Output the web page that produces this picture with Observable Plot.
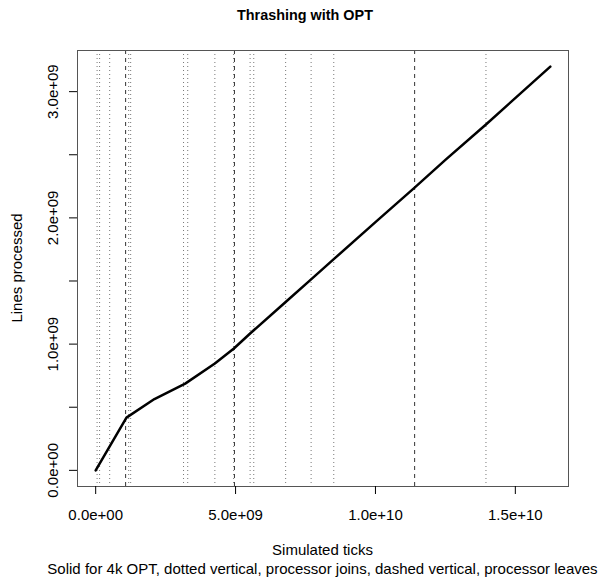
<!DOCTYPE html>
<html>
<head>
<meta charset="utf-8">
<script src="https://cdn.jsdelivr.net/npm/d3@7"></script>
<script src="https://cdn.jsdelivr.net/npm/@observablehq/plot@0.6"></script>
<style>
  html, body { margin: 0; padding: 0; background: white; }
</style>
</head>
<body>
<div id="chart"></div>
<script>
// Data
const simTicks = [0, 1.1e9, 2.1e9, 3.2e9, 4.26e9, 4.94e9, 5.52e9, 6.79e9, 7.70e9, 8.51e9, 10.0e9, 11.4e9, 12.5e9, 13.95e9, 16.25e9];
const linesProcessed = [0, 0.418e9, 0.565e9, 0.687e9, 0.846e9, 0.965e9, 1.084e9, 1.334e9, 1.513e9, 1.673e9, 1.966e9, 2.24e9, 2.46e9, 2.74e9, 3.198e9];
const processorJoins = [0.05e9, 0.14e9, 0.5e9, 1.18e9, 1.25e9, 3.14e9, 3.29e9, 4.26e9, 4.93e9, 5.52e9, 5.65e9, 6.79e9, 7.70e9, 8.51e9, 13.95e9];
const processorLeaves = [1.07e9, 4.96e9, 11.4e9];
const xTickValues = [0, 5e9, 1e10, 1.5e10];
const yTickValues = [0, 0.5e9, 1e9, 1.5e9, 2e9, 2.5e9, 3e9];
const yLabelValues = [0, 1e9, 2e9, 3e9];
const titleText = "Thrashing with OPT";
const xLabel = "Simulated ticks";
const yLabel = "Lines processed";
const captionText = "Solid for 4k OPT, dotted vertical, processor joins, dashed vertical, processor leaves";

const series = simTicks.map((t, i) => ({t, v: linesProcessed[i]}));

function fmtE(v) {
  if (v === 0) return "0.0e+00";
  const [m, e] = v.toExponential(1).split("e");
  return m + "e" + e[0] + e.slice(1).padStart(2, "0");
}

// R-style 4% axis extension
const xmin = d3.min(simTicks), xmax = d3.max(simTicks);
const ymin = d3.min(linesProcessed), ymax = d3.max(linesProcessed);
const xpad = 0.04 * (xmax - xmin), ypad = 0.04 * (ymax - ymin);

const font = "'Liberation Sans', Arial, Helvetica, sans-serif";
const W = 605, H = 583, ML = 77, MR = 37, MT = 50, MB = 97;
const FS = 15;

const svg = Plot.plot({
  width: W, height: H,
  marginLeft: ML, marginRight: MR, marginTop: MT, marginBottom: MB,
  style: {fontFamily: font, fontSize: FS + "px", background: "white", color: "black"},
  x: {domain: [xmin - xpad, xmax + xpad]},
  y: {domain: [ymin - ypad, ymax + ypad]},
  marks: [
    Plot.ruleX(processorJoins, {x: d => d, stroke: "#777", strokeWidth: 1, strokeDasharray: "1,3"}),
    Plot.ruleX(processorLeaves, {x: d => d, stroke: "#333", strokeWidth: 1, strokeDasharray: "4,4"}),
    Plot.line(series, {x: "t", y: "v", stroke: "black", strokeWidth: 2.5}),
    Plot.frame({stroke: "#555"}),
    Plot.axisX({ticks: xTickValues, tickSize: 8, tickPadding: 15, tickFormat: fmtE, label: null, fontSize: FS}),
    Plot.axisY({ticks: yTickValues, tickSize: 8, tickFormat: () => "", label: null}),
    Plot.text(yLabelValues, {y: d => d, frameAnchor: "left", dx: -24, rotate: -90, textAnchor: "middle", lineAnchor: "middle", text: d => fmtE(d), fontSize: FS})
  ]
});

const s = d3.select(svg);
const cx = ML + (W - ML - MR) / 2;
s.append("text").attr("x", 305).attr("y", 20).attr("text-anchor", "middle")
  .attr("font-family", font).attr("font-size", 14.4).attr("font-weight", "bold").text(titleText);
s.append("text").attr("x", cx).attr("y", 555).attr("text-anchor", "middle")
  .attr("font-family", font).attr("font-size", FS).text(xLabel);
s.append("text").attr("x", cx).attr("y", 574).attr("text-anchor", "middle")
  .attr("font-family", font).attr("font-size", FS).text(captionText);
s.append("text").attr("transform", `translate(22,${MT + (H - MT - MB) / 2}) rotate(-90)`)
  .attr("text-anchor", "middle").attr("font-family", font).attr("font-size", FS).text(yLabel);

document.getElementById("chart").appendChild(svg);
</script>
</body>
</html>
